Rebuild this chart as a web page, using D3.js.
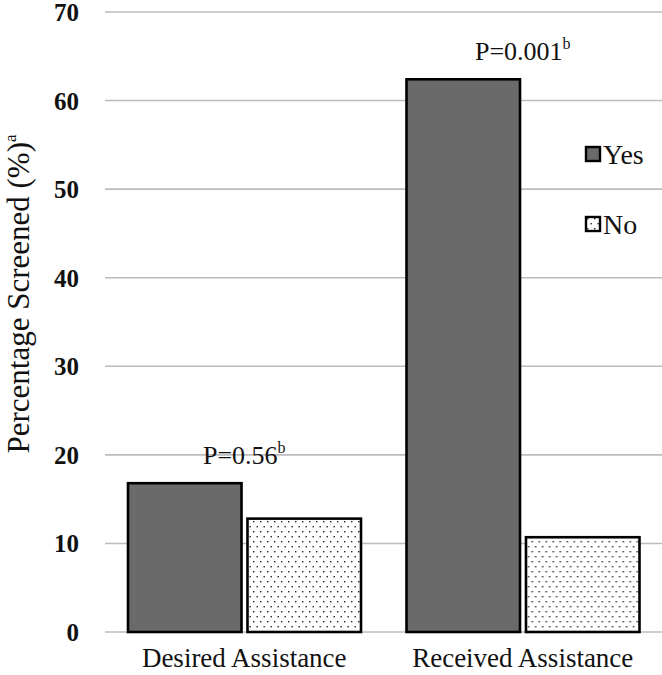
<!DOCTYPE html>
<html>
<head>
<meta charset="utf-8">
<script src="https://cdn.jsdelivr.net/npm/d3@7"></script>
<style>
  body { margin: 0; background: #fff; }
  svg { display: block; font-family: "Liberation Serif", "Times New Roman", serif; }
</style>
</head>
<body>
<svg id="chart" width="662" height="675"></svg>
<script>
const groups = ["Desired Assistance", "Received Assistance"]
const series = ["Yes", "No"]
const yesValues = [16.8, 62.4]
const noValues = [12.8, 10.7]
const pLabels = ["P=0.56", "P=0.001"]
const yTicks = [0, 10, 20, 30, 40, 50, 60, 70]

const svg = d3.select('#chart')

// dotted fill for "No"
const defs = svg.append('defs')
const pat = defs.append('pattern')
    .attr('id', 'dots')
    .attr('patternUnits', 'userSpaceOnUse')
    .attr('width', 7)
    .attr('height', 10)
pat.append('rect').attr('width', 7).attr('height', 10).attr('fill', '#fff')
pat.append('rect').attr('x', 1).attr('y', 1).attr('width', 1.4).attr('height', 1.4).attr('fill', '#222')
pat.append('rect').attr('x', 4.5).attr('y', 6).attr('width', 1.4).attr('height', 1.4).attr('fill', '#222')

const x0 = d3.scaleBand(groups, [105, 662])
const x1 = d3.scaleBand(series, [23, 256]).paddingInner(0.05)
const y = d3.scaleLinear([0, 70], [632, 12])

// gridlines
svg.append('g')
    .selectAll('line')
    .data(yTicks)
    .join('line')
    .attr('x1', 105)
    .attr('x2', 662)
    .attr('y1', d => y(d))
    .attr('y2', d => y(d))
    .attr('stroke', '#bcbcbc')
    .attr('stroke-width', 1.6)

// y tick labels
svg.append('g')
    .selectAll('text')
    .data(yTicks)
    .join('text')
    .text(d => d)
    .attr('x', 79)
    .attr('y', d => y(d))
    .attr('dy', '0.36em')
    .attr('text-anchor', 'end')
    .attr('font-size', '25px')
    .attr('font-weight', 'bold')
    .attr('fill', '#111')

// y title
const yTitle = svg.append('text')
    .attr('transform', 'translate(29, 294) rotate(-90)')
    .attr('text-anchor', 'middle')
    .attr('font-size', '31px')
    .attr('fill', '#111')
yTitle.append('tspan').text('Percentage Screened (%)')
yTitle.append('tspan').text('a').attr('font-size', '17px').attr('dy', '-0.75em')

// bars
const rows = groups.map((g, i) => ({group: g, values: [
    {key: 'Yes', value: yesValues[i]},
    {key: 'No', value: noValues[i]}
]}))

svg.append('g')
    .selectAll('g')
    .data(rows)
    .join('g')
    .attr('transform', d => `translate(${x0(d.group)},0)`)
    .selectAll('rect')
    .data(d => d.values)
    .join('rect')
    .attr('x', d => x1(d.key))
    .attr('width', x1.bandwidth())
    .attr('y', d => y(d.value))
    .attr('height', d => y(0) - y(d.value))
    .attr('fill', d => d.key === 'Yes' ? '#6a6a6a' : 'url(#dots)')
    .attr('stroke', '#000')
    .attr('stroke-width', 2.6)

// P labels above each group
svg.append('g')
    .selectAll('text')
    .data(groups)
    .join('text')
    .attr('x', d => x0(d) + x0.bandwidth() / 2)
    .attr('y', (d, i) => y(Math.max(yesValues[i], noValues[i])) - 19)
    .attr('text-anchor', 'middle')
    .attr('font-size', '26px')
    .attr('fill', '#111')
    .each(function(d, i) {
        const t = d3.select(this)
        t.append('tspan').text(pLabels[i])
        t.append('tspan').text('b').attr('font-size', '16px').attr('dy', '-0.7em')
    })

// x labels
svg.append('g')
    .selectAll('text')
    .data(groups)
    .join('text')
    .text(d => d)
    .attr('x', d => x0(d) + x0.bandwidth() / 2)
    .attr('y', 667)
    .attr('text-anchor', 'middle')
    .attr('font-size', '27px')
    .attr('fill', '#111')

// legend
const legend = svg.append('g')
    .selectAll('g')
    .data(series)
    .join('g')
    .attr('transform', (d, i) => `translate(586, ${147 + i * 70})`)
legend.append('rect')
    .attr('width', 14)
    .attr('height', 14)
    .attr('fill', d => d === 'Yes' ? '#6a6a6a' : 'url(#dots)')
    .attr('stroke', '#000')
    .attr('stroke-width', 2.4)
legend.append('text')
    .text(d => d)
    .attr('x', 17)
    .attr('y', 7)
    .attr('dy', '0.35em')
    .attr('font-size', '28px')
    .attr('fill', '#111')
</script>
</body>
</html>
